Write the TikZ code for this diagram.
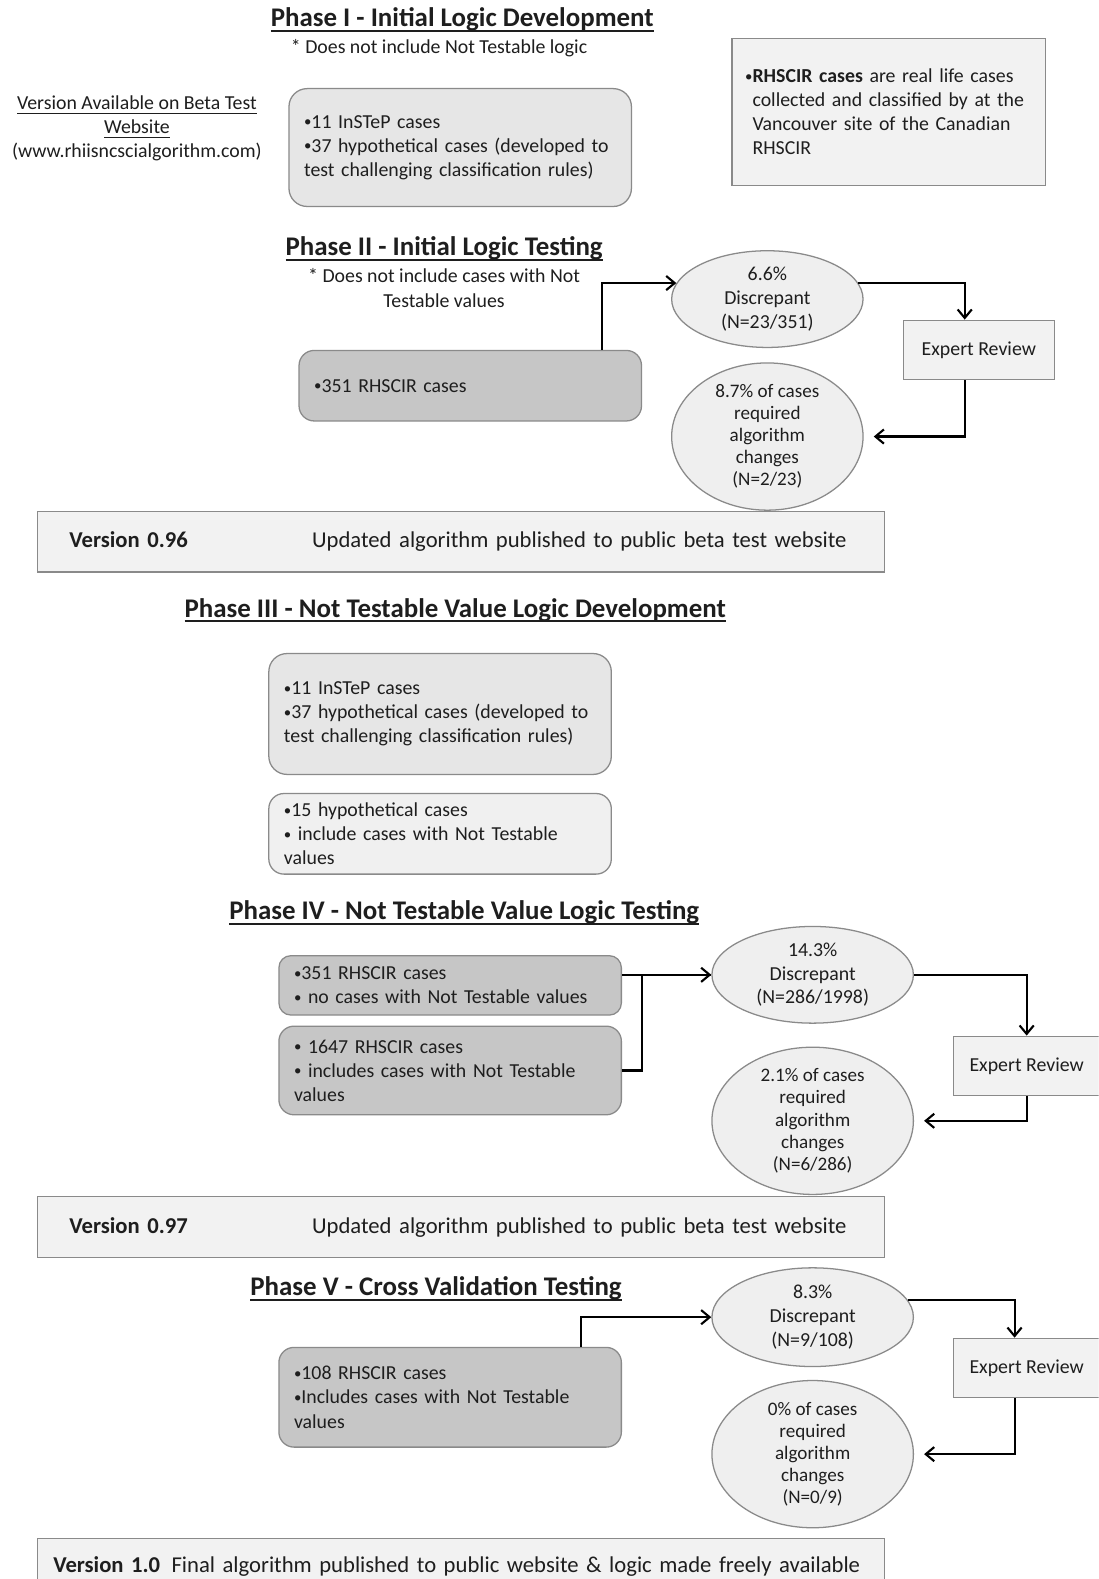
\documentclass[tikz,border=0pt]{standalone}
\usepackage{fontspec}
\setmainfont{Carlito}
\usepackage{tikz}
\usetikzlibrary{arrows.meta,positioning,shapes.geometric}

\definecolor{boxline}{HTML}{8A8A8A}
\definecolor{txt}{HTML}{1E1E1E}
\definecolor{lightcase}{HTML}{E6E6E6}
\definecolor{palecase}{HTML}{F0F0F0}
\definecolor{darkcase}{HTML}{C6C6C6}
\definecolor{bubble}{HTML}{EFEFEF}
\definecolor{barfill}{HTML}{F2F2F2}

\newcommand{\undl}[2][1.4pt]{\setbox0\hbox{#2}\rlap{\rule[-3.8pt]{\wd0}{#1}}\box0}
\newcommand{\dotb}{\raisebox{0.15ex}{\scalebox{0.75}{•}}}

\begin{document}
\begin{tikzpicture}[
x=0.025cm, y=-0.025cm,
phase/.style={font=\fontsize{19}{22}\selectfont\bfseries, text=txt},
remark/.style={font=\fontsize{14}{17}\selectfont, text=txt, align=center},
casebox/.style={
		draw=boxline, line width=0.9pt,
		rounded corners=0.45cm,
		text width=7.75cm, inner xsep=0.375cm,
		align=left, text=txt,
		font=\fontsize{14}{17}\selectfont,
		},
notebox/.style={draw=boxline, line width=0.9pt, fill=barfill,
		text width=7.125cm, inner xsep=0.325cm, minimum height=3.65cm,
		align=left, text=txt, font=\fontsize{14}{17}\selectfont},
disc/.style={ellipse, draw=boxline, line width=0.9pt, fill=bubble,
		inner sep=0pt, minimum height=2.4cm, align=center, text=txt,
		font=\fontsize{14}{16.7}\selectfont},
change/.style={disc, minimum height=3.175cm, font=\fontsize{13.5}{15.6}\selectfont},
expert/.style={draw=boxline, line width=0.9pt, fill=barfill,
		minimum width=3.75cm, minimum height=1.475cm, text=txt,
		font=\fontsize{14}{17}\selectfont},
bar/.style={draw=boxline, line width=0.9pt, fill=barfill,
		minimum height=1.5cm, text width=19.425cm, inner xsep=0.8cm,
		align=left, text=txt, font=\fontsize{16}{19}\selectfont},
conn/.style={line width=1.5pt, -{Straight Barb[length=6pt,width=10pt]}}
]

\clip (0,0) rectangle (1091,1568);
\fill[white] (0,0) rectangle (1091,1568);

% Phase I
\node[phase] (t1) at (459,20) {\undl{Phase I - Initial Logic Development}};
\node[remark] (s1) at (436,48) {* Does not include Not Testable logic};
\node[remark] (web) at (136,127) {\undl[0.8pt]{Version Available on Beta Test}\\\undl[0.8pt]{Website}\\(www.rhiisncscialgorithm.com)};
\node[casebox, fill=lightcase, minimum height=2.925cm] (dev1) at (457,146.5)
  {\dotb11 InSTeP cases\\\dotb37 hypothetical cases (developed to\\test challenging classification rules)};
\node[notebox] (rhscir) at (882.5,111)
  {\dotb\textbf{RHSCIR cases} are real life cases\\\hphantom{\dotb}collected and classified by at the\\\hphantom{\dotb}Vancouver site of the Canadian\\\hphantom{\dotb}RHSCIR};

% Phase II
\node[phase] (t2) at (441,247) {\undl{Phase II - Initial Logic Testing}};
\node[remark] (s2) at (441,286) {* Does not include cases with Not\\Testable values};
\node[casebox, fill=darkcase, minimum height=1.75cm, rounded corners=0.375cm] (test2) at (467,383) {\dotb351 RHSCIR cases};
\node[disc, minimum width=4.75cm] (disc2) at (762,297) {6.6\%\\Discrepant\\(N=23/351)};
\node[expert] (rev2) at (972,347.5) {Expert Review};
\node[change, minimum width=4.75cm] (chg2) at (762,433.5) {8.7\% of cases\\required\\algorithm\\changes\\(N=2/23)};
\draw[conn] ([xshift=3.275cm]test2.north) |- (disc2.170);
\draw[conn] (disc2.10) -| ([xshift=-0.35cm]rev2.north);
\draw[conn, shorten >=0.25cm] ([xshift=-0.35cm]rev2.south) |- (chg2.east);

\node[bar] (v096) at (457.5,538) {\makebox[6.025cm][l]{\textbf{Version 0.96}}Updated algorithm published to public beta test website};

% Phase III
\node[phase] (t3) at (452,606) {\undl{Phase III - Not Testable Value Logic Development}};
\node[casebox, fill=lightcase, minimum height=3cm] (dev3a) at (437,709)
  {\dotb11 InSTeP cases\\\dotb37 hypothetical cases (developed to\\test challenging classification rules)};
\node[casebox, fill=palecase, minimum height=2cm, rounded corners=0.375cm] (dev3b) at (437,828)
  {\dotb15 hypothetical cases\\\dotb{} include cases with Not Testable\\values};

% Phase IV
\node[phase] (t4) at (461,906) {\undl{Phase IV - Not Testable Value Logic Testing}};
\node[casebox, fill=darkcase, minimum height=1.475cm, rounded corners=0.3cm] (test4a) at (447,978.5)
  {\dotb351 RHSCIR cases\\\dotb{} no cases with Not Testable values};
\node[casebox, fill=darkcase, minimum height=2.2cm, rounded corners=0.375cm] (test4b) at (447,1063)
  {\dotb{} 1647 RHSCIR cases\\\dotb{} includes cases with Not Testable\\values};
\node[disc, minimum width=5cm] (disc4) at (807,968) {14.3\%\\Discrepant\\(N=286/1998)};
\node[expert, minimum width=3.625cm] (rev4) at (1019.5,1058.5) {Expert Review};
\node[change, minimum width=5cm] (chg4) at (807,1113) {2.1\% of cases\\required\\algorithm\\changes\\(N=6/286)};
\draw[conn] (test4a.east |- disc4.west) -- (disc4.west);
\draw[line width=1.5pt] (test4b.east) -- ++(0.5cm,0) |- (disc4.west);
\draw[conn] (disc4.east) -| (rev4.north);
\draw[conn, shorten >=0.25cm] (rev4.south) |- (chg4.east);

\node[bar] (v097) at (457.5,1218.5) {\makebox[6.025cm][l]{\textbf{Version 0.97}}Updated algorithm published to public beta test website};

% Phase V
\node[phase] (t5) at (433,1280) {\undl{Phase V - Cross Validation Testing}};
\node[casebox, fill=darkcase, minimum height=2.475cm, rounded corners=0.375cm] (test5) at (447,1387.5)
  {\dotb108 RHSCIR cases\\\dotb Includes cases with Not Testable\\values};
\node[disc, minimum width=5cm, minimum height=2.45cm] (disc5) at (807,1308) {8.3\%\\Discrepant\\(N=9/108)};
\node[expert, minimum width=3.625cm] (rev5) at (1019.5,1358.5) {Expert Review};
\node[change, minimum width=5cm, minimum height=3.2cm] (chg5) at (807,1444) {0\% of cases\\required\\algorithm\\changes\\(N=0/9)};
\draw[conn] ([xshift=3.25cm]test5.north) |- (disc5.west);
\draw[conn] (disc5.10) -| ([xshift=-0.3cm]rev5.north);
\draw[conn, shorten >=0.25cm] ([xshift=-0.3cm]rev5.south) |- (chg5.east);

\node[bar, text width=20.225cm, inner xsep=0.4cm, minimum height=1.4cm] (v100) at (457.5,1556)
  {\textbf{Version 1.0}\enspace Final algorithm published to public website \& logic made freely available};
\end{tikzpicture}
\end{document}
